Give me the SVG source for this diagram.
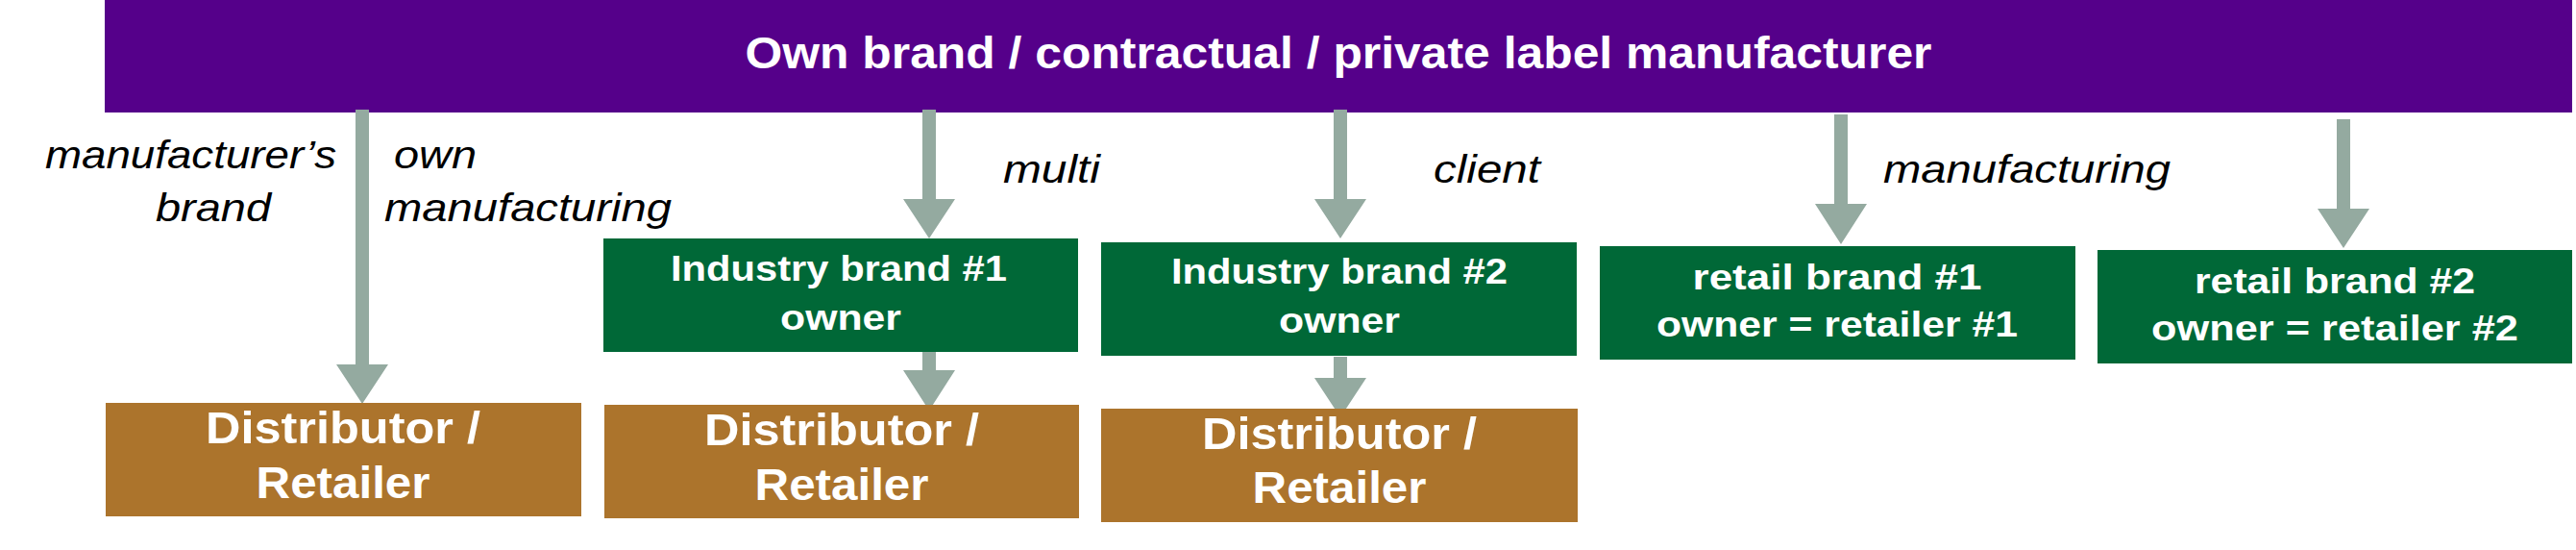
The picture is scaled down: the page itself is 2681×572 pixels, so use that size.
<svg xmlns="http://www.w3.org/2000/svg" width="2681" height="572" viewBox="0 0 2681 572">
<style>
.n{font-family:"Liberation Sans",Arial,sans-serif;font-weight:bold;fill:#fff;text-anchor:middle}
.l{font-family:"Liberation Sans",Arial,sans-serif;font-style:italic;fill:#000}
.ar{fill:#94AAA0}
.g{fill:#006837}.b{fill:#AC742C}
</style>
<rect width="2681" height="572" fill="#fff"/>
<g id="manufacturer"><rect x="109" y="0" width="2568" height="117" fill="#55008A"/>
<text class="n" x="1393" y="71" font-size="46" textLength="1235" lengthAdjust="spacingAndGlyphs">Own brand / contractual / private label manufacturer</text></g>
<g id="connectors">
<path class="ar" d="M370 114h14v265h20l-27 41l-27-41h20z"/>
<path class="ar" d="M960 114h14v93h20l-27 41l-27-41h20z"/>
<path class="ar" d="M960 363h14v22h20l-27 42l-27-42h20z"/>
<path class="ar" d="M1388 114h14v93h20l-27 41l-27-41h20z"/>
<path class="ar" d="M1388 371h14v22h20l-27 41l-27-41h20z"/>
<path class="ar" d="M1909 119h14v93h20l-27 42l-27-42h20z"/>
<path class="ar" d="M2432 124h14v93h20l-27 41l-27-41h20z"/>
</g>
<g id="labels">
<text class="l" x="47" y="175" font-size="40" textLength="303" lengthAdjust="spacingAndGlyphs">manufacturer’s</text>
<text class="l" x="162" y="230" font-size="40" textLength="120" lengthAdjust="spacingAndGlyphs">brand</text>
<text class="l" x="410" y="175" font-size="40" textLength="86" lengthAdjust="spacingAndGlyphs">own</text>
<text class="l" x="400" y="230" font-size="40" textLength="299" lengthAdjust="spacingAndGlyphs">manufacturing</text>
<text class="l" x="1044" y="190" font-size="40" textLength="101" lengthAdjust="spacingAndGlyphs">multi</text>
<text class="l" x="1492" y="190" font-size="40" textLength="111" lengthAdjust="spacingAndGlyphs">client</text>
<text class="l" x="1960" y="190" font-size="40" textLength="299" lengthAdjust="spacingAndGlyphs">manufacturing</text>
</g>
<g id="industry1"><rect class="g" x="628" y="248" width="494" height="118"/>
<text class="n" x="873" y="292" font-size="36" textLength="350" lengthAdjust="spacingAndGlyphs">Industry brand #1</text>
<text class="n" x="875" y="343" font-size="36" textLength="126" lengthAdjust="spacingAndGlyphs">owner</text></g>
<g id="industry2"><rect class="g" x="1146" y="252" width="495" height="118"/>
<text class="n" x="1394" y="295" font-size="36" textLength="350" lengthAdjust="spacingAndGlyphs">Industry brand #2</text>
<text class="n" x="1394" y="346" font-size="36" textLength="126" lengthAdjust="spacingAndGlyphs">owner</text></g>
<g id="retail1"><rect class="g" x="1665" y="256" width="495" height="118"/>
<text class="n" x="1912" y="301" font-size="36" textLength="301" lengthAdjust="spacingAndGlyphs">retail  brand #1</text>
<text class="n" x="1912" y="350" font-size="36" textLength="376" lengthAdjust="spacingAndGlyphs">owner = retailer #1</text></g>
<g id="retail2"><rect class="g" x="2183" y="260" width="494" height="118"/>
<text class="n" x="2430" y="305" font-size="36" textLength="292" lengthAdjust="spacingAndGlyphs">retail brand #2</text>
<text class="n" x="2430" y="354" font-size="36" textLength="382" lengthAdjust="spacingAndGlyphs">owner = retailer #2</text></g>
<g id="distributor1"><rect class="b" x="110" y="419" width="495" height="118"/>
<text class="n" x="357" y="461" font-size="46" textLength="286" lengthAdjust="spacingAndGlyphs">Distributor /</text>
<text class="n" x="357" y="518" font-size="46" textLength="181" lengthAdjust="spacingAndGlyphs">Retailer</text></g>
<g id="distributor2"><rect class="b" x="629" y="421" width="494" height="118"/>
<text class="n" x="876" y="463" font-size="46" textLength="286" lengthAdjust="spacingAndGlyphs">Distributor /</text>
<text class="n" x="876" y="520" font-size="46" textLength="181" lengthAdjust="spacingAndGlyphs">Retailer</text></g>
<g id="distributor3"><rect class="b" x="1146" y="425" width="496" height="118"/>
<text class="n" x="1394" y="467" font-size="46" textLength="286" lengthAdjust="spacingAndGlyphs">Distributor /</text>
<text class="n" x="1394" y="523" font-size="46" textLength="181" lengthAdjust="spacingAndGlyphs">Retailer</text></g>
</svg>
